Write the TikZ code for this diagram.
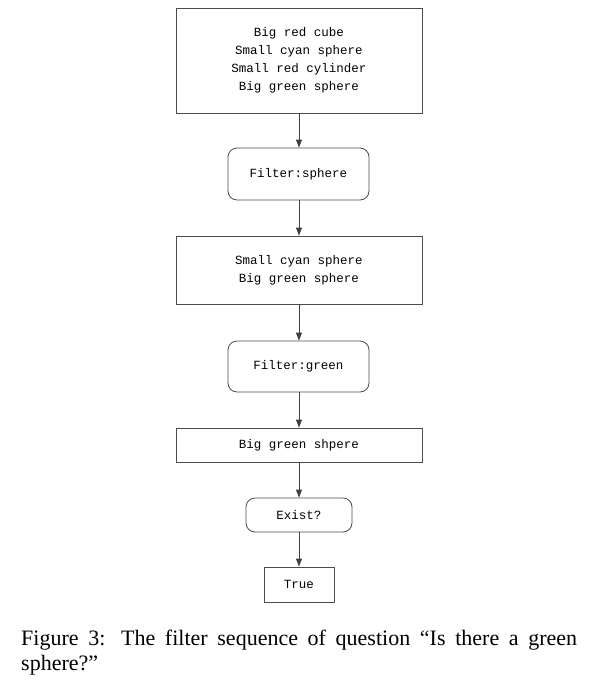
\documentclass[tikz,border=0pt]{standalone}
\usepackage{fontspec}
\setmainfont{Liberation Serif}
\newfontfamily\boxmono{Liberation Mono}
\usetikzlibrary{arrows.meta}
\tikzset{
  sqbox/.style={draw=black!70, line width=0.8pt, minimum width=#1, inner sep=0pt, align=center, font=\boxmono\fontsize{12.5}{18}\selectfont},
  rdbox/.style={sqbox=#1, rounded corners=9pt},
  flow/.style={draw=black!75, line width=0.9pt, -{Triangle[length=8pt,width=6pt]}},
  captext/.style={anchor=base west, inner sep=0pt, font=\fontsize{22}{24}\selectfont},
}
\begin{document}
\begin{tikzpicture}[x=1pt,y=-1pt]
\useasboundingbox (0,0) rectangle (597,689);
\node[sqbox=246pt, minimum height=105pt] (b1) at (299,60.5) {Big red cube\\Small cyan sphere\\Small red cylinder\\Big green sphere};
\node[rdbox=141pt, minimum height=52pt] (f1) at (298.5,174) {Filter:sphere};
\node[sqbox=246pt, minimum height=68pt] (b2) at (299,270) {Small cyan sphere\\Big green sphere};
\node[rdbox=141pt, minimum height=51pt] (f2) at (298.5,366.5) {Filter:green};
\node[sqbox=246pt, minimum height=34pt] (b3) at (299,445) {Big green shpere};
\node[rdbox=106pt, minimum height=34pt] (ex) at (299,515) {Exist?};
\node[sqbox=70pt, minimum height=35pt] (tr) at (299,584.5) {True};
\draw[flow] (b1.south -| 299,0) -- (f1.north -| 299,0);
\draw[flow] (f1.south -| 299,0) -- (b2.north -| 299,0);
\draw[flow] (b2.south -| 299,0) -- (f2.north -| 299,0);
\draw[flow] (f2.south -| 299,0) -- (b3.north -| 299,0);
\draw[flow] (b3) -- (ex);
\draw[flow] (ex) -- (tr);
\node[captext] (cap1) at (21,645) {\makebox[556pt][s]{Figure 3: The filter sequence of question “Is there a green}};
\node[captext] (cap2) at (21,670) {sphere?”};
\end{tikzpicture}
\end{document}
